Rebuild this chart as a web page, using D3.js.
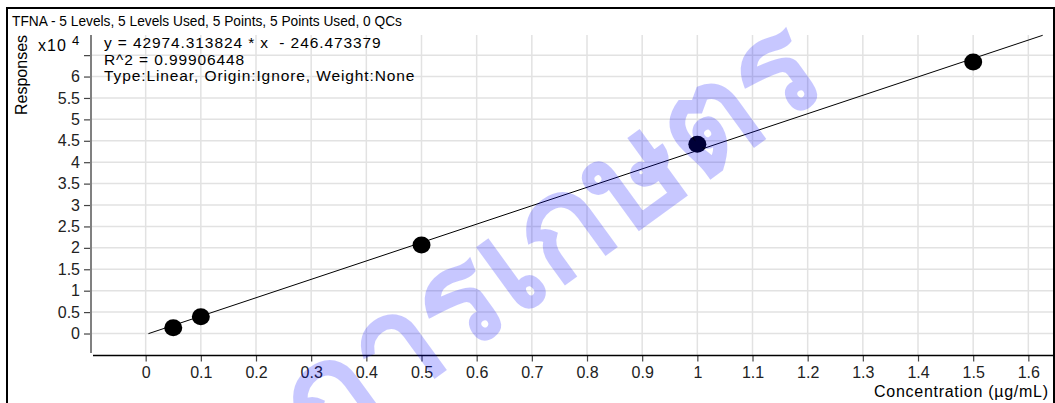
<!DOCTYPE html>
<html>
<head>
<meta charset="utf-8">
<script src="https://cdn.jsdelivr.net/npm/d3@7"></script>
<style>
  html, body { margin: 0; padding: 0; background: #fff; }
  svg { display: block; font-family: Arial, "Liberation Sans", sans-serif; }
</style>
</head>
<body>
<svg id="chart" width="1055" height="403"></svg>
<script>
// calibration data (Responses)
const title = "TFNA - 5 Levels, 5 Levels Used, 5 Points, 5 Points Used, 0 QCs";
const concentrations = [0.05, 0.1, 0.5, 1.0, 1.5];
const responses = [1350, 3900, 20650, 44200, 63400];
const slope = 42974.313824;
const intercept = -246.473379;
const fitRange = [0.005, 1.626];
const infoLines = [
  "y = 42974.313824 * x\u00a0\u00a0- 246.473379",
  "R^2 = 0.99906448",
  "Type:Linear, Origin:Ignore, Weight:None"
];
const xTicks = d3.range(0, 17).map(i => i / 10);
const yTicks = d3.range(0, 14).map(i => i * 5000); // 0 .. 6.5 x10^4
const watermark = "กรมวิชาการเกษตร";

const svg = d3.select('#chart');

const x = d3.scaleLinear().domain([-0.1, 1.6465]).range([90.5, 1054]);
const y = d3.scaleLinear().domain([-4550, 69700]).range([353, 35]);

svg.append('rect').attr('width', 1055).attr('height', 403).attr('fill', '#fff');

// gridlines
svg.append('g').selectAll('line').data(xTicks).join('line')
  .attr('x1', d => x(d)).attr('x2', d => x(d))
  .attr('y1', 35).attr('y2', 355)
  .attr('stroke', '#e2e2e2').attr('stroke-width', 1.5);
svg.append('g').selectAll('line').data(yTicks).join('line')
  .attr('x1', 91).attr('x2', 1054)
  .attr('y1', d => y(d)).attr('y2', d => y(d))
  .attr('stroke', '#e2e2e2').attr('stroke-width', 1.5);

// y axis
const yAxis = svg.append('g').attr('transform', 'translate(91,0)')
  .call(d3.axisLeft(y).tickValues(yTicks).tickSize(7).tickPadding(4)
    .tickFormat(d => d === 65000 ? '' : d3.format('~g')(d / 10000)));
yAxis.select('.domain').remove();
yAxis.selectAll('.tick line').attr('stroke', '#444').attr('stroke-width', 1.2);
yAxis.selectAll('.tick text').attr('font-size', 16).attr('fill', '#222')
  .attr('font-family', 'Arial, "Liberation Sans", sans-serif');
svg.append('line').attr('x1', 91).attr('x2', 91).attr('y1', 35).attr('y2', 353)
  .attr('stroke', '#808080').attr('stroke-width', 2);

// x axis
const xAxis = svg.append('g').attr('transform', 'translate(0,355.5)')
  .call(d3.axisBottom(x).tickValues(xTicks).tickSize(6).tickPadding(5)
    .tickFormat(d3.format('~g')));
xAxis.select('.domain').remove();
xAxis.selectAll('.tick line').attr('stroke', '#444').attr('stroke-width', 1.2);
xAxis.selectAll('.tick text').attr('font-size', 16).attr('fill', '#222')
  .attr('font-family', 'Arial, "Liberation Sans", sans-serif');
svg.append('line').attr('x1', 93).attr('x2', 1054).attr('y1', 355.5).attr('y2', 355.5)
  .attr('stroke', '#000').attr('stroke-width', 1.5);

// fitted line
svg.append('line')
  .attr('x1', x(fitRange[0])).attr('y1', y(slope * fitRange[0] + intercept))
  .attr('x2', x(fitRange[1])).attr('y2', y(slope * fitRange[1] + intercept))
  .attr('stroke', '#000').attr('stroke-width', 1);

// points
svg.append('g').selectAll('ellipse').data(concentrations).join('ellipse')
  .attr('cx', d => x(d)).attr('cy', (d, i) => y(responses[i]))
  .attr('rx', 9).attr('ry', 8.5).attr('fill', '#000');

// texts
svg.append('text').attr('x', 12).attr('y', 26).attr('font-size', 15)
  .attr('textLength', 390).attr('lengthAdjust', 'spacingAndGlyphs').text(title);
svg.append('g').selectAll('text').data(infoLines).join('text')
  .attr('x', 104).attr('y', (d, i) => 48 + i * 16.5)
  .attr('font-size', 15.5).attr('letter-spacing', 0.9)
  .text(d => d);
svg.append('text').attr('x', 38).attr('y', 51).attr('font-size', 16)
  .attr('textLength', 28).text('x10');
svg.append('text').attr('x', 72).attr('y', 45).attr('font-size', 13).text('4');
svg.append('text').attr('transform', 'translate(27,75) rotate(-90)')
  .attr('text-anchor', 'middle').attr('font-size', 16).text('Responses');
svg.append('text').attr('x', 1048).attr('y', 397).attr('text-anchor', 'end')
  .attr('font-size', 16).attr('textLength', 174).attr('lengthAdjust', 'spacing')
  .text('Concentration (µg/mL)');

// watermark
svg.append('text').attr('transform', 'translate(832,88) rotate(-36)')
  .attr('text-anchor', 'end').attr('font-size', 140).attr('font-weight', 'bold')
  .attr('fill', '#0000ff').attr('fill-opacity', 0.22).text(watermark);

// frame
svg.append('rect').attr('x', 7).attr('y', 8).attr('width', 1047).attr('height', 410)
  .attr('fill', 'none').attr('stroke', '#000').attr('stroke-width', 2);
</script>
</body>
</html>
